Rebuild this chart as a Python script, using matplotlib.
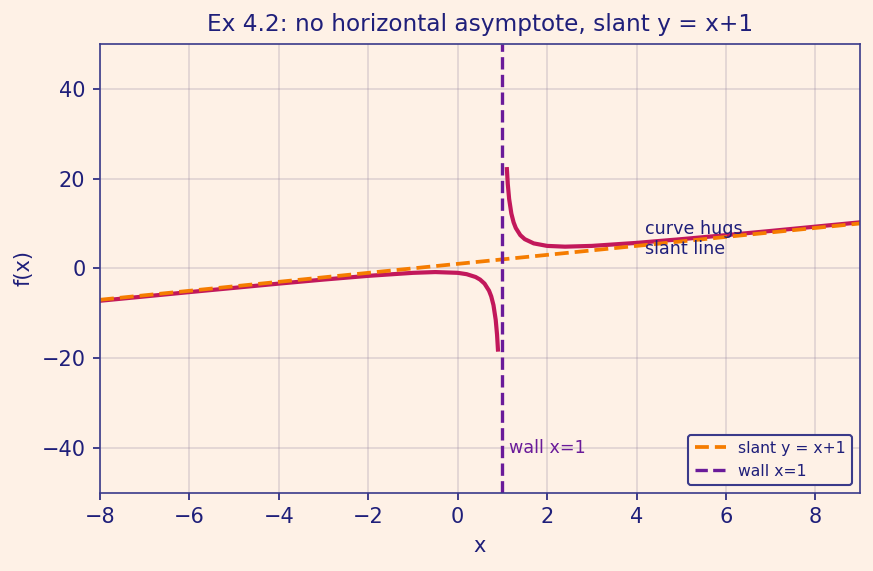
import matplotlib
matplotlib.use('Agg')
import matplotlib.pyplot as plt

# f(x) = (x^2 + 1) / (x - 1)
left_x = [-8, -6, -4, -3, -2, -1, -0.5, 0, 0.2, 0.4, 0.5, 0.6, 0.7, 0.75, 0.8, 0.85, 0.88, 0.9]
left_y = [-7.22, -5.29, -3.4, -2.5, -1.67, -1.0, -0.83, -1.0, -1.3, -1.93, -2.5, -3.4, -4.97, -6.25, -8.2, -11.48, -14.79, -18.1]
right_x = [1.1, 1.12, 1.15, 1.2, 1.25, 1.3, 1.4, 1.5, 1.7, 2.0, 2.4, 3.0, 4, 5, 6, 7, 9]
right_y = [22.1, 18.79, 15.48, 12.2, 10.25, 8.97, 7.4, 6.5, 5.56, 5.0, 4.83, 5.0, 5.67, 6.5, 7.4, 8.33, 10.25]
slant_x = [-8, 9]
slant_y = [-7, 10]
wall_x = 1

bg = '#fef1e6'
navy = '#1f1f7a'
crimson = '#c2185b'
orange = '#f57c00'
purple = '#6a1b9a'

fig = plt.figure(figsize=(5.82, 3.807), dpi=150, facecolor=bg)
ax = fig.add_axes([0.1146, 0.137, 0.8706, 0.786])
ax.set_facecolor(bg)

ax.plot(left_x, left_y, c=crimson, linewidth=2.0)
ax.plot(right_x, right_y, c=crimson, linewidth=2.0)
ax.plot(slant_x, slant_y, c=orange, linestyle='--', linewidth=1.8, label='slant y = x+1')
ax.axvline(wall_x, c=purple, linestyle='--', linewidth=1.6, label='wall x=1')

ax.text(4.2, 3.2, 'curve hugs\nslant line', color=navy, fontsize=8.4, linespacing=1.15)
ax.text(1.15, -40, 'wall x=1', color=purple, fontsize=8.4, va='center')

ax.set_xlim(-8, 9)
ax.set_ylim(-50, 50)
ax.set_xticks(range(-8, 10, 2))
ax.set_yticks([-40, -20, 0, 20, 40])
ax.grid(True, color='#9a8aa5', alpha=0.3, linewidth=0.8)
ax.set_axisbelow(True)
ax.set_title('Ex 4.2: no horizontal asymptote, slant y = x+1', color=navy, fontsize=11.2)
ax.set_xlabel('x', color=navy, fontsize=10)
ax.set_ylabel('f(x)', color=navy, fontsize=10)
ax.tick_params(colors=navy, labelsize=10)
for key, spine in ax.spines.items():
    spine.set_color('#3a3a8a')

leg = ax.legend(loc='lower right', fontsize=7.5, facecolor=bg, edgecolor='#3a3a8a', framealpha=1)
for t in leg.get_texts():
    t.set_color(navy)

fig.savefig('out.png', dpi=150, facecolor=bg)
